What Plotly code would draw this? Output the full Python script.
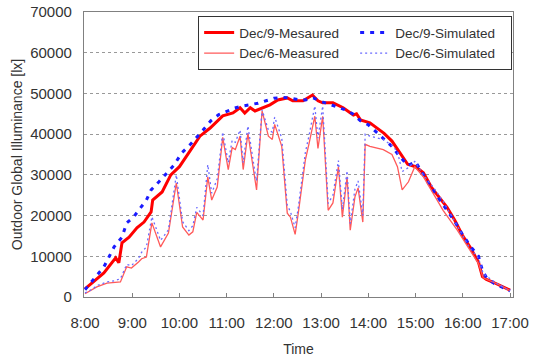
import plotly.graph_objects as go

# ---- data -------------------------------------------------------------
# Dec 9 (clear day), measured
dec9_meas_time = ["8:00", "8:11", "8:24", "8:39", "8:43", "8:47", "8:56", "9:06", "9:15", "9:24",
                  "9:26", "9:38", "9:49", "10:00", "10:06", "10:13", "10:26", "10:39", "10:43", "10:55",
                  "11:08", "11:17", "11:23", "11:30", "11:36", "11:45", "11:55", "12:05", "12:17", "12:24",
                  "12:37", "12:49", "12:56", "13:02", "13:15", "13:28", "13:41", "13:45", "13:50", "14:02",
                  "14:10", "14:20", "14:30", "14:40", "14:50", "15:00", "15:10", "15:20", "15:30", "15:40",
                  "15:50", "16:00", "16:10", "16:20", "16:25", "16:30", "16:40", "16:50", "17:00"]
dec9_meas_lux = [2000, 3700, 5900, 9600, 8400, 13300, 14700, 17000, 18400, 20900,
                 23800, 25800, 30000, 32000, 33700, 36000, 39500, 41500, 42300, 44500,
                 45200, 46500, 45200, 46500, 45700, 46500, 47200, 48400, 48900, 48200,
                 48200, 49600, 48200, 47700, 47700, 46500, 44700, 45000, 43500, 42800,
                 41700, 40200, 38300, 35600, 32600, 32000, 30500, 27000, 24500, 22000,
                 18800, 15000, 12000, 8500, 5000, 4300, 3500, 2700, 1700]

# Dec 9, simulated
dec9_sim_time = ["8:00", "8:03", "8:14", "8:24", "8:37", "8:47", "8:53", "9:02", "9:18", "9:24",
                 "9:34", "9:44", "9:53", "10:03", "10:14", "10:30", "10:40", "10:50", "11:00", "11:10",
                 "11:20", "11:30", "11:40", "11:50", "12:00", "12:10", "12:20", "12:30", "12:40", "12:50",
                 "13:00", "13:10", "13:20", "13:30", "13:40", "13:50", "14:00", "14:10", "14:20", "14:30",
                 "14:40", "14:50", "15:00", "15:05", "15:10", "15:20", "15:30", "15:40", "15:50", "16:00",
                 "16:10", "16:20", "16:25", "16:30", "16:40", "16:50", "17:00"]
dec9_sim_lux = [1800, 2500, 4900, 7400, 12300, 14700, 18200, 19700, 23800, 26300,
                28300, 30500, 32400, 35400, 37500, 41000, 43300, 44800, 45700, 46400,
                46900, 47200, 47600, 48200, 48800, 49000, 48900, 48500, 48400, 48900,
                48000, 47400, 46700, 46000, 45000, 43300, 42300, 40500, 38700, 37000,
                34500, 32300, 33200, 31500, 30000, 26800, 24000, 21200, 18500, 15200,
                12400, 10000, 6500, 4800, 3300, 2400, 1500]

# Dec 6 (partly cloudy day), measured and simulated on a shared time base
dec6_time = ["8:00", "8:10", "8:15", "8:28", "8:38", "8:45", "8:53", "8:59", "9:08", "9:12",
             "9:18", "9:25", "9:36", "9:46", "9:56", "10:04", "10:12", "10:17", "10:22", "10:30",
             "10:36", "10:41", "10:48", "10:55", "11:02", "11:07", "11:11", "11:17", "11:21", "11:27",
             "11:36", "11:38", "11:45", "11:53", "11:58", "12:01", "12:10", "12:17", "12:21", "12:27",
             "12:31", "12:40", "12:45", "12:52", "12:56", "13:02", "13:09", "13:15", "13:22", "13:27",
             "13:33", "13:37", "13:43", "13:47", "13:53", "13:56", "14:02", "14:19", "14:30", "14:37",
             "14:43", "14:51", "14:59", "15:10", "15:25", "15:35", "15:53", "16:09", "16:20", "16:26",
             "16:44", "17:00"]
dec6_meas_lux = [800, 1800, 2500, 3400, 3600, 3700, 7400, 7100, 8600, 9400,
                 9800, 18200, 12300, 15700, 28000, 17200, 15200, 16000, 20800, 18900,
                 29500, 23800, 27000, 39200, 31300, 36700, 36200, 39500, 31300, 40200,
                 28800, 26300, 45700, 39500, 38700, 42400, 37000, 20600, 19600, 15400,
                 20600, 33700, 38000, 44400, 36500, 44400, 21300, 23100, 32000, 19600,
                 29500, 16400, 24600, 26800, 18400, 37500, 37000, 36200, 35000, 32000,
                 26300, 28300, 32000, 29500, 24600, 21300, 16400, 11400, 8200, 4700,
                 3200, 1600]
dec6_sim_lux = [1000, 2000, 2800, 3700, 4000, 4500, 8000, 7700, 9500, 11000,
                12300, 19700, 13900, 16500, 30000, 18500, 16300, 17500, 22000, 20000,
                32500, 25500, 29000, 40500, 33000, 38500, 38000, 41000, 33000, 42000,
                30500, 28500, 46000, 41000, 40500, 44200, 39000, 22500, 21000, 17000,
                22000, 35500, 40000, 46900, 39000, 46900, 23000, 25000, 33500, 21500,
                31000, 18000, 26500, 28500, 20000, 40000, 39500, 38700, 37200, 35700,
                30800, 31800, 33300, 30000, 26300, 23500, 17500, 12000, 9500, 5700,
                3200, 1500]

hour_ticks = [8, 9, 10, 11, 12, 13, 14, 15, 16, 17]
hour_labels = ["8:00", "9:00", "10:00", "11:00", "12:00", "13:00", "14:00", "15:00", "16:00", "17:00"]
lux_ticks = [0, 10000, 20000, 30000, 40000, 50000, 60000, 70000]


def to_hours(labels):
    out = []
    for s in labels:
        h, m = s.split(":")
        out.append(int(h) + int(m) / 60.0)
    return out


FONT = "Liberation Sans, Arial, sans-serif"
TEXT = "#333333"

fig = go.Figure()
fig.add_trace(go.Scatter(x=to_hours(dec9_meas_time), y=dec9_meas_lux, mode="lines",
                         name="Dec/9-Mesaured", line=dict(color="#ff0000", width=3)))
fig.add_trace(go.Scatter(x=to_hours(dec9_sim_time), y=dec9_sim_lux, mode="lines",
                         name="Dec/9-Simulated", line=dict(color="#1a1aff", width=3, dash="4px,6px")))
fig.add_trace(go.Scatter(x=to_hours(dec6_time), y=dec6_meas_lux, mode="lines",
                         name="Dec/6-Measured", line=dict(color="#ff5a5a", width=1.3)))
fig.add_trace(go.Scatter(x=to_hours(dec6_time), y=dec6_sim_lux, mode="lines",
                         name="Dec/6-Simulated", line=dict(color="#6a6aff", width=1.3, dash="2px,3px")))

fig.update_layout(
    width=533, height=357,
    margin=dict(l=84, r=20, t=12, b=60),
    paper_bgcolor="white", plot_bgcolor="white",
    font=dict(family=FONT, size=15, color=TEXT),
    showlegend=True,
    legend=dict(
        orientation="h", x=0.998, xanchor="right", y=0.985, yanchor="top",
        entrywidth=111, bgcolor="white", bordercolor="#333333", borderwidth=1,
        font=dict(family=FONT, size=13.5, color=TEXT),
        traceorder="normal",
    ),
)

fig.update_xaxes(
    automargin=False,
    range=[8 - 1 / 47.2, 17 + 3 / 47.2],
    tickvals=hour_ticks, ticktext=hour_labels,
    ticks="inside", ticklen=4, tickcolor="#808080",
    showline=True, linecolor="#808080", linewidth=1.2, mirror=True,
    showgrid=False, zeroline=False,
    ticklabelstandoff=12,
    title=dict(text="Time", font=dict(family=FONT, size=14, color=TEXT), standoff=14),
)
fig.update_yaxes(
    automargin=False,
    range=[0, 70000],
    tickvals=lux_ticks, ticktext=[str(v) for v in lux_ticks],
    ticks="", showline=True, linecolor="#808080", linewidth=1.2, mirror=True,
    showgrid=True, gridcolor="#999999", griddash="3px,3px", gridwidth=1,
    zeroline=False, ticklabelstandoff=8,
    title=dict(text="Outdoor Global Illuminance [lx]",
               font=dict(family=FONT, size=14, color=TEXT), standoff=4),
)

fig.write_html("out.html")
